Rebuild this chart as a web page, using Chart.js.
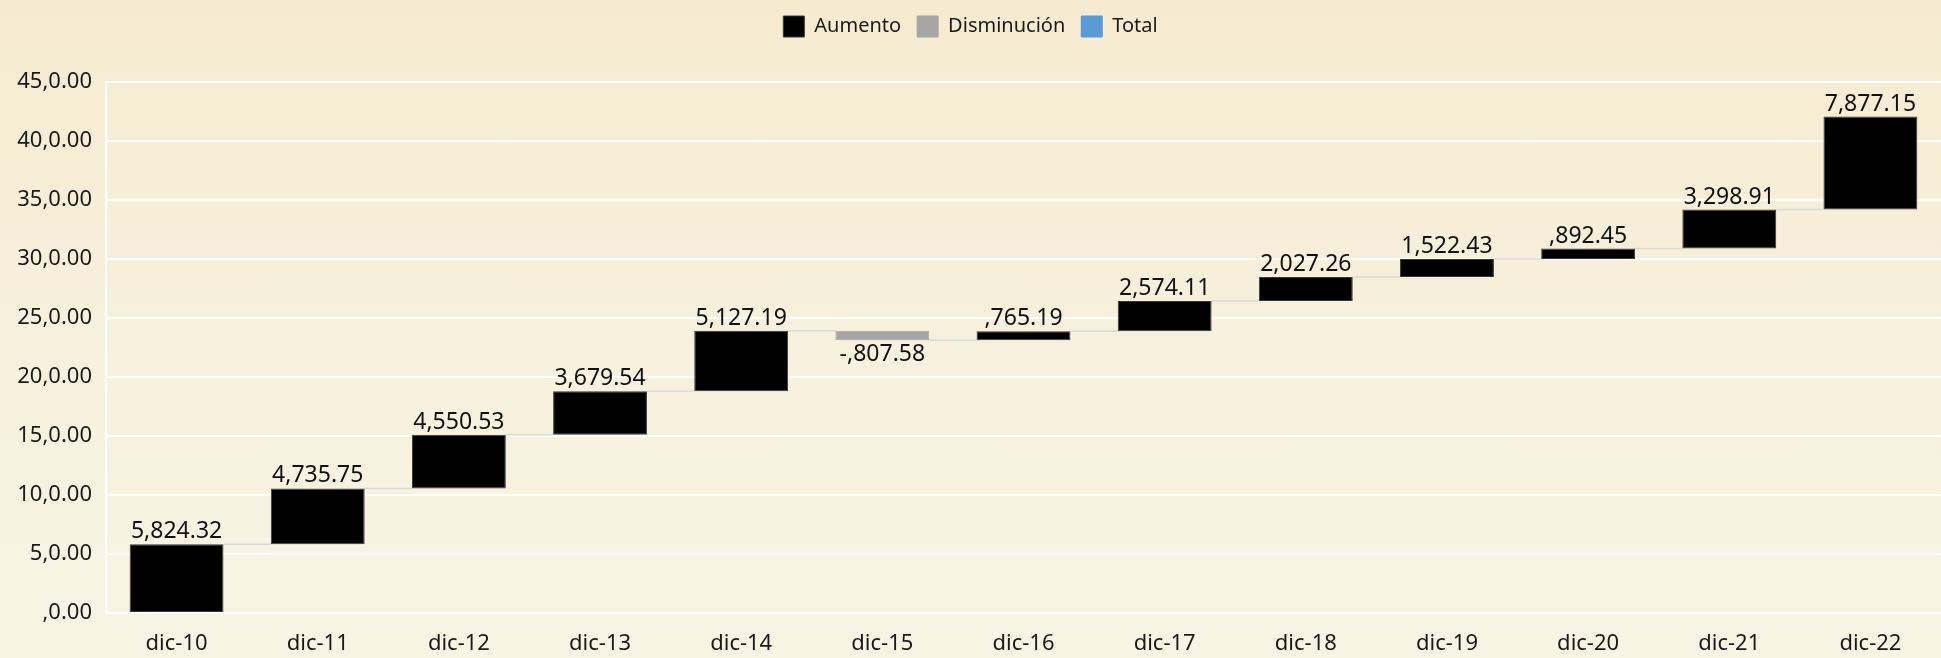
<!DOCTYPE html>
<html>
<head>
<meta charset="utf-8">
<script src="https://cdn.jsdelivr.net/npm/chart.js@4.4.0/dist/chart.umd.min.js"></script>
<style>
  html, body { margin: 0; padding: 0; width: 1941px; height: 658px; overflow: hidden;
    background: linear-gradient(180deg, #f6ebd0 0%, #f7f0dc 50%, #f8f4e4 100%); }
  #wrap { width: 1941px; height: 658px; position: relative; }
</style>
</head>
<body>
<div id="wrap"><canvas id="myChart"></canvas></div>
<script>
const categories = ['dic-10', 'dic-11', 'dic-12', 'dic-13', 'dic-14', 'dic-15', 'dic-16', 'dic-17', 'dic-18', 'dic-19', 'dic-20', 'dic-21', 'dic-22'];
const changes = [5824.32, 4735.75, 4550.53, 3679.54, 5127.19, -807.58, 765.19, 2574.11, 2027.26, 1522.43, 892.45, 3298.91, 7877.15];
const yTickLabels = [',0.00', '5,0.00', '10,0.00', '15,0.00', '20,0.00', '25,0.00', '30,0.00', '35,0.00', '40,0.00', '45,0.00'];

// running totals for the floating bars
const starts = [], ends = [];
let run = 0;
changes.forEach(function (c) { starts.push(run); run += c; ends.push(run); });

const upData = changes.map(function (c, i) { return c >= 0 ? [starts[i], ends[i]] : null; });
const downData = changes.map(function (c, i) { return c < 0 ? [starts[i], ends[i]] : null; });
const totalData = changes.map(function () { return null; });

// same odd number format as the original sheet ("5,824.32", ",765.19", "-,807.58")
function fmt(v) {
  const neg = v < 0;
  const a = Math.abs(v);
  const th = Math.floor(a / 1000);
  let rest = (a - th * 1000).toFixed(2);
  if (th > 0) rest = rest.padStart(6, '0');
  return (neg ? '-' : '') + (th > 0 ? th : '') + ',' + rest;
}

const FONT = "'Noto Sans', sans-serif";

const legendGap = {
  id: 'legendGap',
  beforeInit: function (chart) {
    const fit = chart.legend.fit;
    chart.legend.fit = function () {
      fit.bind(chart.legend)();
      this.height += 35;
    };
  }
};

const waterfallExtras = {
  id: 'waterfallExtras',
  beforeDatasetsDraw: function (chart) {
    const ctx = chart.ctx, y = chart.scales.y;
    const bars = barElements(chart);
    ctx.save();
    ctx.strokeStyle = '#d9d9d9';
    ctx.lineWidth = 1.5;
    for (let i = 0; i < bars.length - 1; i++) {
      const py = y.getPixelForValue(ends[i]);
      ctx.beginPath();
      ctx.moveTo(bars[i].x + bars[i].width / 2, py);
      ctx.lineTo(bars[i + 1].x - bars[i + 1].width / 2, py);
      ctx.stroke();
    }
    ctx.restore();
  },
  afterDatasetsDraw: function (chart) {
    const ctx = chart.ctx;
    const bars = barElements(chart);
    ctx.save();
    ctx.font = '23px ' + FONT;
    ctx.fillStyle = '#111';
    ctx.textAlign = 'center';
    bars.forEach(function (b, i) {
      const top = Math.min(b.y, b.base), bottom = Math.max(b.y, b.base);
      if (changes[i] >= 0) {
        ctx.textBaseline = 'bottom';
        ctx.fillText(fmt(changes[i]), b.x, top - 1);
      } else {
        ctx.textBaseline = 'top';
        ctx.fillText(fmt(changes[i]), b.x, bottom + 3);
      }
    });
    ctx.restore();
  }
};

function barElements(chart) {
  return categories.map(function (c, i) {
    for (let d = 0; d < chart.data.datasets.length; d++) {
      if (chart.data.datasets[d].data[i]) return chart.getDatasetMeta(d).data[i];
    }
    return null;
  });
}

const ctx = document.getElementById('myChart').getContext('2d');
const myChart = new Chart(ctx, {
  type: 'bar',
  data: {
    labels: categories,
    datasets: [
      { label: 'Aumento', data: upData, backgroundColor: '#000000', borderColor: '#3a3a3a', borderWidth: 1, borderSkipped: false },
      { label: 'Disminución', data: downData, backgroundColor: '#a5a5a5', borderColor: '#a5a5a5', borderWidth: 1, borderSkipped: false },
      { label: 'Total', data: totalData, backgroundColor: '#5b9bd5', borderColor: '#5b9bd5', borderWidth: 1, borderSkipped: false }
    ]
  },
  options: {
    responsive: true,
    maintainAspectRatio: false,
    animation: false,
    layout: { padding: { top: 0, right: 0, left: 0, bottom: 0 } },
    datasets: { bar: { grouped: false, barPercentage: 0.665, categoryPercentage: 1 } },
    plugins: {
      legend: {
        position: 'top',
        labels: {
          font: { family: FONT, size: 20 },
          color: '#1a1a1a',
          boxWidth: 21,
          boxHeight: 21,
          padding: 16
        }
      },
      tooltip: { enabled: false }
    },
    scales: {
      x: {
        grid: { display: false, drawTicks: false },
        border: { color: '#ffffff', width: 2 },
        ticks: { font: { family: FONT, size: 22 }, color: '#1a1a1a', padding: 18 },
        afterFit: function (s) { s.height = 45; }
      },
      y: {
        min: 0,
        max: 45000,
        ticks: {
          stepSize: 5000,
          font: { family: FONT, size: 22 },
          color: '#1a1a1a',
          padding: 14,
          callback: function (v, i) { return yTickLabels[i]; }
        },
        grid: { color: '#ffffff', lineWidth: 2, drawTicks: false },
        border: { color: '#ffffff', width: 2 },
        afterFit: function (s) { s.width = 106; }
      }
    }
  },
  plugins: [legendGap, waterfallExtras]
});
</script>
</body>
</html>
